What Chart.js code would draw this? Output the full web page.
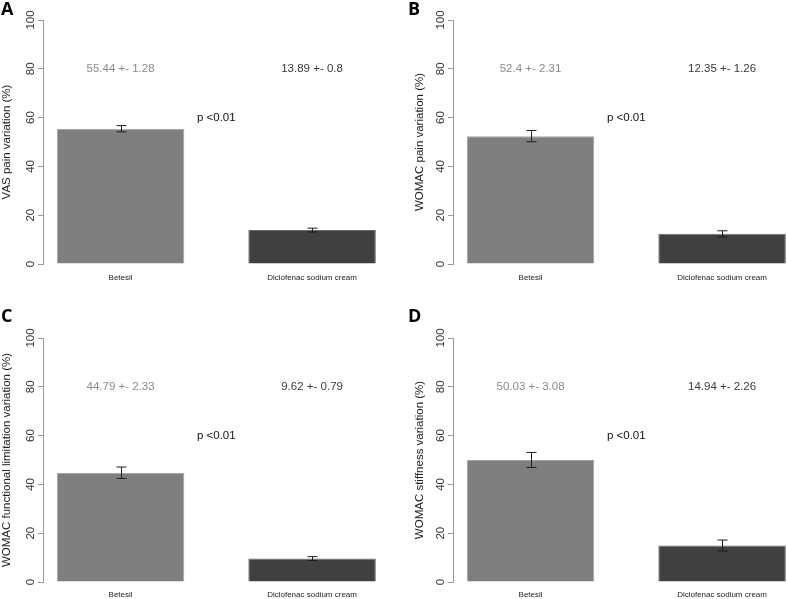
<!DOCTYPE html>
<html>
<head>
<meta charset="utf-8">
<script src="https://cdn.jsdelivr.net/npm/chart.js@4.4.1/dist/chart.umd.min.js"></script>
<style>
    body { margin: 0; background: #fff; }
    #wrap { position: relative; width: 787px; height: 599px; overflow: hidden; }
    .panel { position: absolute; }
    .tag { position: absolute; font: bold 18px "Open Sans", Arial, sans-serif; line-height: 18px; color: #000; }
</style>
</head>
<body>
<div id="wrap">
    <div class="panel" style="left:0;top:0;width:390px;height:300px"><canvas id="chart-a"></canvas></div>
    <div class="panel" style="left:390px;top:0;width:397px;height:300px"><canvas id="chart-b"></canvas></div>
    <div class="panel" style="left:0;top:300px;width:390px;height:299px"><canvas id="chart-c"></canvas></div>
    <div class="panel" style="left:390px;top:300px;width:397px;height:299px"><canvas id="chart-d"></canvas></div>
    <div class="tag" style="left:1px;top:-1px">A</div>
    <div class="tag" style="left:408px;top:-1px">B</div>
    <div class="tag" style="left:1px;top:306px">C</div>
    <div class="tag" style="left:408px;top:306px">D</div>
</div>
<script>
// dữ liệu
const categories = ['Betesil', 'Diclofenac sodium cream'];
const vasMean = [55.44, 13.89];
const vasSe = [1.28, 0.8];
const painMean = [52.4, 12.35];
const painSe = [2.31, 1.26];
const functionMean = [44.79, 9.62];
const functionSe = [2.33, 0.79];
const stiffMean = [50.03, 14.94];
const stiffSe = [3.08, 2.26];
const yTicks = [0, 20, 40, 60, 80, 100];
const pText = 'p <0.01';
const labelLevel = 80;   // chiều cao của nhãn "mean +- se"
const pLevel = 60;       // chiều cao của nhãn p

const barColors = ['#7f7f7f', '#404040'];
const barBorders = ['#a0a0a0', '#6a6a6a'];
const labelColors = ['#8a8a8a', '#3a3a3a'];

Chart.defaults.font.family = '"Liberation Sans", Arial, sans-serif';

// vẽ thanh sai số và các nhãn
const annotate = {
    id: 'annotate',
    afterDatasetsDraw(chart) {
        const { ctx, scales: { x, y } } = chart;
        const ds = chart.data.datasets[0];
        ctx.save();
        ctx.strokeStyle = '#1e1e1e';
        ctx.lineWidth = 1;
        ds.data.forEach((p, i) => {
            const cx = Math.round(x.getPixelForValue(p.x)) + 0.5;
            const top = y.getPixelForValue(p.y + ds.errors[i]);
            const bot = y.getPixelForValue(p.y - ds.errors[i]);
            ctx.beginPath();
            ctx.moveTo(cx, top); ctx.lineTo(cx, bot);
            ctx.moveTo(cx - 5, top); ctx.lineTo(cx + 5, top);
            ctx.moveTo(cx - 5, bot); ctx.lineTo(cx + 5, bot);
            ctx.stroke();
        });
        ctx.font = '11.5px "Liberation Sans", Arial, sans-serif';
        ctx.textAlign = 'center';
        ctx.textBaseline = 'middle';
        ds.data.forEach((p, i) => {
            ctx.fillStyle = labelColors[i];
            ctx.fillText(`${p.y} +- ${ds.errors[i]}`, x.getPixelForValue(p.x), y.getPixelForValue(labelLevel));
        });
        ctx.fillStyle = '#111';
        ctx.fillText(pText, x.getPixelForValue(0.5), y.getPixelForValue(pLevel));
        ctx.restore();
    }
};

function initPanel(id, title, means, errs, pad) {
    const ctx = document.getElementById(id).getContext('2d');
    return new Chart(ctx, {
        type: 'bar',
        data: {
            datasets: [{
                data: means.map((v, i) => ({ x: i, y: v })),
                errors: errs,
                backgroundColor: barColors,
                borderColor: barBorders,
                borderWidth: 1,
                barPercentage: 127.5 / 191.5,
                categoryPercentage: 1
            }]
        },
        options: {
            responsive: true,
            maintainAspectRatio: false,
            animation: false,
            layout: { padding: { left: pad.left, right: pad.right, top: pad.top, bottom: 0 } },
            plugins: {
                legend: { display: false },
                tooltip: { enabled: false }
            },
            scales: {
                x: {
                    type: 'linear',
                    offset: false,
                    min: -0.405,
                    max: 1.339,
                    grid: { display: false, drawTicks: false, offset: false },
                    border: { display: false },
                    afterBuildTicks: (s) => { s.ticks = categories.map((c, i) => ({ value: i })); },
                    afterFit: (s) => { s.height = pad.xh; },
                    ticks: {
                        padding: pad.xp,
                        color: '#222',
                        font: { size: 8 },
                        maxRotation: 0,
                        autoSkip: false,
                        callback: (v) => categories[v]
                    }
                },
                y: {
                    min: 0,
                    max: 100,
                    afterBuildTicks: (s) => { s.ticks = yTicks.map(v => ({ value: v })); },
                    afterFit: (s) => { s.width = pad.yw; },
                    grid: { drawOnChartArea: false, drawTicks: true, tickLength: 5, color: '#9a9a9a' },
                    border: { display: true, color: '#9a9a9a' },
                    ticks: {
                        minRotation: 90,
                        maxRotation: 90,
                        crossAlign: 'center',
                        padding: -2,
                        color: '#333',
                        font: { size: 11.5 }
                    },
                    title: {
                        display: true,
                        text: title,
                        color: '#222',
                        font: { size: 11.5 },
                        padding: 0
                    }
                }
            }
        },
        plugins: [annotate]
    });
}

initPanel('chart-a', 'VAS pain variation (%)', vasMean, vasSe, { left: 0, right: 13, top: 20, xh: 36, xp: 9, yw: 43 });
initPanel('chart-b', 'WOMAC pain variation (%)', painMean, painSe, { left: 23, right: 0, top: 20, xh: 36, xp: 9, yw: 40 });
initPanel('chart-c', 'WOMAC functional limitation variation (%)', functionMean, functionSe, { left: 0, right: 13, top: 38, xh: 17, xp: 8, yw: 43 });
initPanel('chart-d', 'WOMAC stiffness variation (%)', stiffMean, stiffSe, { left: 23, right: 0, top: 38, xh: 17, xp: 8, yw: 40 });
</script>
</body>
</html>
